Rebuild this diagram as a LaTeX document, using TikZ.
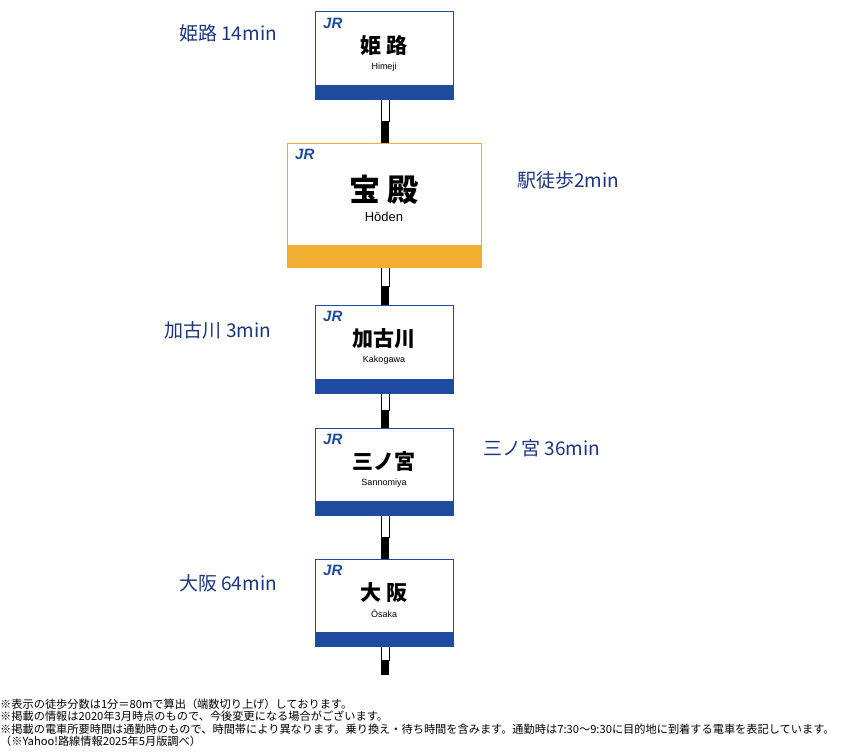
\documentclass[tikz,border=0pt]{standalone}
\usepackage{fontspec}
\setmainfont{Noto Sans CJK JP}
\newfontfamily\latinfont{Liberation Sans}
\usetikzlibrary{positioning}
\definecolor{jrblue}{HTML}{1E4AA0}
\definecolor{hodenor}{HTML}{F2AE30}
\definecolor{labnavy}{HTML}{1B3582}
\tikzset{
  poleseg/.style={draw=black, line width=0.8pt},
  timelab/.style={text=labnavy, font=\fontsize{19}{22}\selectfont},
  jrlogo/.style={text=jrblue, font=\latinfont\bfseries\itshape\fontsize{15}{15}\selectfont, inner sep=0pt},
  note/.style={anchor=west, inner sep=0pt, font=\fontsize{11.2}{13}\selectfont}
}
\newcommand{\stasign}[9]{% name, x1, y1, x2, y2, band top, colour, kanji, romaji
  \fill[#7] (#2,#6) rectangle (#4,#5);
  \draw[#7, line width=1pt] (#2,#3) rectangle (#4,#5);
  \node[jrlogo, anchor=north west] (#1logo) at ({#2+8},{#3+6}) {JR};
  \node (#1name) at ({(#2+#4)/2},{#3+0.46*(#6-#3)}) {#8};
  \node[below=0pt of #1name] (#1rom) {#9};
}
\begin{document}
\begin{tikzpicture}[x=1pt,y=-1pt]
\useasboundingbox (0,0) rectangle (850,752);
%pole:
\foreach \ya/\yb in {99/143, 267/305, 393/428, 515/559, 646/675} {
  \draw[poleseg, fill=white] (381,\ya) rectangle (389,{(\ya+\yb)/2});
  \fill (381,{(\ya+\yb)/2}) rectangle (389,\yb);
}
%station signs:
\stasign{himeji}{315}{12}{453}{99}{85}{jrblue}{\fontsize{21}{21}\selectfont\bfseries 姫 路}{\latinfont\fontsize{9}{9}\selectfont Himeji}
\stasign{hoden}{287}{143}{481}{267}{245}{hodenor}{\fontsize{31}{31}\selectfont\bfseries 宝 殿}{\latinfont\fontsize{13}{13}\selectfont Hōden}
\stasign{kako}{315}{305}{453}{393}{379}{jrblue}{\fontsize{21}{21}\selectfont\bfseries 加古川}{\latinfont\fontsize{9}{9}\selectfont Kakogawa}
\stasign{sanno}{315}{428}{453}{515}{501}{jrblue}{\fontsize{21}{21}\selectfont\bfseries 三ノ宮}{\latinfont\fontsize{9}{9}\selectfont Sannomiya}
\stasign{osaka}{315}{559}{453}{646}{632}{jrblue}{\fontsize{21}{21}\selectfont\bfseries 大 阪}{\latinfont\fontsize{9}{9}\selectfont Ōsaka}
%times:
\node[timelab] (thimeji) at (228,33) {姫路 14min};
\node[timelab] (thoden) at (568,180) {駅徒歩2min};
\node[timelab] (tkako) at (218,330) {加古川 3min};
\node[timelab] (tsanno) at (542,448) {三ノ宮 36min};
\node[timelab] (tosaka) at (228,583) {大阪 64min};
%notes:
\node[note] (n1) at (0,704) {※表示の徒歩分数は1分＝80mで算出（端数切り上げ）しております。};
\node[note] (n2) at (0,716) {※掲載の情報は2020年3月時点のもので、今後変更になる場合がございます。};
\node[note] (n3) at (0,729) {※掲載の電車所要時間は通勤時のもので、時間帯により異なります。乗り換え・待ち時間を含みます。通勤時は7:30～9:30に目的地に到着する電車を表記しています。};
\node[note] (n4) at (0,741) {（※Yahoo!路線情報2025年5月版調べ）};
\end{tikzpicture}
\end{document}
